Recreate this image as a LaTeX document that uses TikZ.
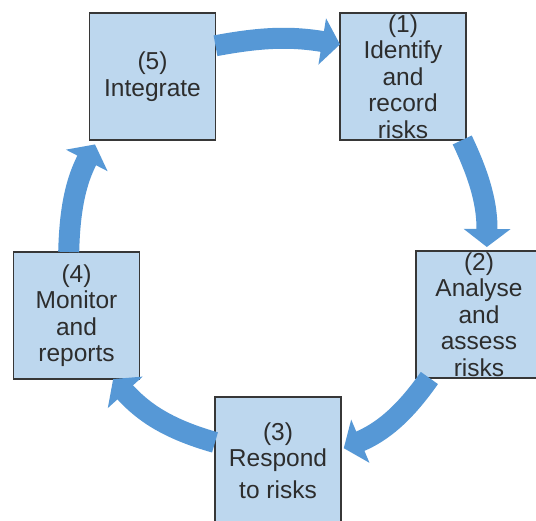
\documentclass[tikz,border=0pt]{standalone}
\usepackage{fontspec}
\setmainfont{Liberation Sans}
\usetikzlibrary{arrows.meta}
\definecolor{boxfill}{RGB}{189,215,238}
\definecolor{boxline}{RGB}{55,55,55}
\definecolor{arr}{RGB}{86,152,214}
\definecolor{txt}{RGB}{45,45,45}
\newcommand{\bxt}[1]{\parbox[c][100pt][c]{124pt}{\centering\fontsize{24.5}{26.5}\selectfont #1}}
\begin{document}
\begin{tikzpicture}[x=1pt,y=1pt,
  box/.style={draw=boxline, line width=1.5pt, fill=boxfill, minimum width=126pt,
    minimum height=127pt, inner sep=0pt, outer sep=0pt, text=txt},
  cyc/.style={draw=arr, line width=21pt, -{Triangle[width=46pt,length=18pt]}}]
\path[use as bounding box, clip] (0,0) rectangle (536,521);
\fill[white] (0,0) rectangle (536,521);
\node[box] (n5) at (152.5,444.5) {\bxt{(5)\\Integrate}};
\node[box] (n1) at (403,444.5) {\bxt{(1)\\Identify\\and\\record\\risks}};
\node[box] (n2) at (479,206.5) {\bxt{(2)\\Analyse\\and\\assess\\risks}};
\node[box] (n3) at (278,60.5) {\bxt{(3)\\Respond\\[5pt]to risks}};
\node[box] (n4) at (76.5,205.5) {\bxt{(4)\\Monitor\\and\\reports}};
\draw[cyc] (n5.26) to[bend left=10] (n1.153);
\draw[cyc, shorten >=4pt] (n1.-47) to[bend left=13] (n2.83);
\draw[cyc, shorten >=3pt] (n2.-128) to[bend left=16] (n3.10);
\draw[cyc] (n3.164) to[bend left=16] (n4.-60);
\draw[cyc, shorten >=5pt] (n4.97) to[bend left=13] (n5.-131);
\end{tikzpicture}
\end{document}
